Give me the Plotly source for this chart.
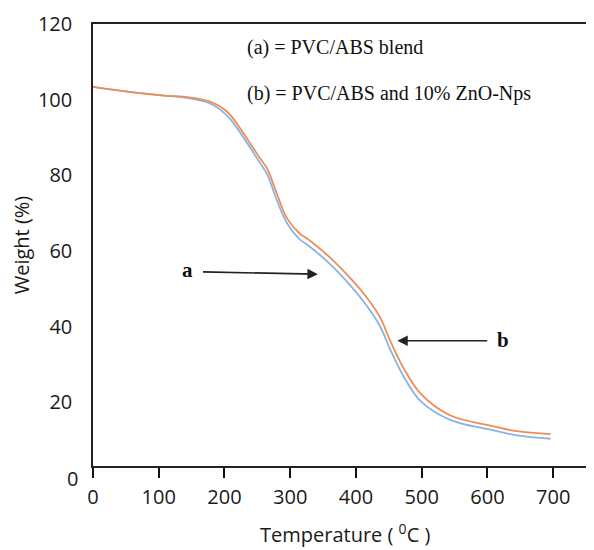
import plotly.graph_objects as go

# Temperature (°C) and weight (%)
temp_a = [0, 41, 113, 137, 178, 204, 224, 254, 265, 280, 295, 315, 325, 361, 391, 417,
          437, 452, 472, 498, 543, 604, 645, 696]
weight_a = [103.4, 102.4, 101.0, 100.6, 99.0, 95.8, 91.3, 83.3, 80.3, 73.3, 67.4, 63.0,
            61.8, 56.5, 51.0, 45.4, 40.0, 34.0, 27.0, 20.4, 15.4, 12.8, 11.3, 10.4]

temp_b = [0, 41, 113, 137, 178, 204, 224, 254, 265, 280, 295, 315, 325, 361, 391, 417,
          437, 452, 472, 498, 543, 604, 645, 696]
weight_b = [103.4, 102.4, 101.0, 100.8, 99.5, 96.8, 92.4, 84.5, 81.8, 75.0, 68.7, 64.5,
            63.4, 58.2, 52.9, 47.6, 42.4, 36.3, 29.2, 22.4, 16.6, 13.9, 12.4, 11.6]

x_ticks = [0, 100, 200, 300, 400, 500, 600, 700]
y_ticks = [20, 40, 60, 80, 100, 120]
x_range = [0, 756]
y_range = [3.2, 120]

fig = go.Figure()
fig.add_trace(go.Scatter(x=temp_a, y=weight_a, mode="lines", line_shape="spline",
                         line=dict(color="#86b4e3", width=1.8), name="a"))
fig.add_trace(go.Scatter(x=temp_b, y=weight_b, mode="lines", line_shape="spline",
                         line=dict(color="#f08c55", width=1.8), name="b"))

tick_font = dict(family="Open Sans", size=20, color="#1a1a1a")

fig.update_layout(
    width=586, height=542,
    margin=dict(l=85, r=4, t=16, b=84),
    paper_bgcolor="white", plot_bgcolor="white",
    showlegend=False,
    xaxis=dict(range=x_range, tickvals=x_ticks, ticks="outside", ticklen=10,
               tickwidth=1.5, tickcolor="#111", showline=True, linecolor="#222",
               linewidth=1.5, mirror=True, showgrid=False, zeroline=False,
               tickfont=tick_font, ticklabelstandoff=2, automargin=False),
    yaxis=dict(range=y_range, tickvals=y_ticks, ticks="", showline=True,
               linecolor="#222", linewidth=1.5, mirror=True, showgrid=False,
               zeroline=False, tickfont=tick_font, ticklabelstandoff=15, automargin=False,
               title=dict(text="Weight (%)", font=tick_font, standoff=4)),
)

# x-axis title
fig.add_annotation(text="Temperature ( <sup>0</sup>C )", xref="paper", yref="paper",
                   x=0.5, y=0, xanchor="center", yanchor="middle", xshift=3, yshift=-67,
                   borderpad=0, showarrow=False, font=tick_font)

zero_paper = (0 - y_range[0]) / (y_range[1] - y_range[0])
fig.add_annotation(text="0", xref="paper", yref="paper", x=0, y=zero_paper,
                   xanchor="right", yanchor="middle", xshift=-13, showarrow=False,
                   font=tick_font)

serif = dict(family="Liberation Serif", size=20, color="#111")
fig.add_annotation(text="(a) = PVC/ABS blend", xref="x", yref="y", x=231, y=113.9,
                   xanchor="left", yanchor="middle", showarrow=False, font=serif)
fig.add_annotation(text="(b) = PVC/ABS and 10% ZnO-Nps", xref="x", yref="y", x=231, y=101.6,
                   xanchor="left", yanchor="middle", showarrow=False, font=serif)

bold = dict(family="Liberation Serif", size=21, color="#111")
fig.add_annotation(text="<b>a</b>", xref="x", yref="y", x=143, y=54.9,
                   xanchor="center", yanchor="middle", showarrow=False, font=bold)
fig.add_annotation(text="<b>b</b>", xref="x", yref="y", x=623, y=36.4,
                   xanchor="center", yanchor="middle", showarrow=False, font=bold)
fig.add_annotation(x=342, y=53.9, ax=165, ay=54.5, xref="x", yref="y", axref="x", ayref="y",
                   text="", showarrow=True, arrowhead=2, arrowsize=1.3, arrowwidth=1.6,
                   arrowcolor="#222")
fig.add_annotation(x=463, y=36.3, ax=602, ay=36.3, xref="x", yref="y", axref="x", ayref="y",
                   text="", showarrow=True, arrowhead=2, arrowsize=1.3, arrowwidth=1.6,
                   arrowcolor="#222")

fig.write_html("out.html")
